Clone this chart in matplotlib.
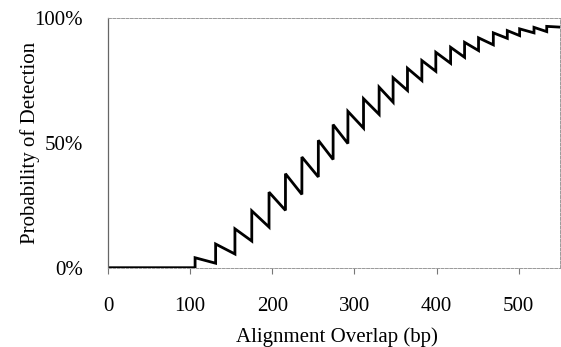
import numpy as np
import matplotlib.pyplot as plt
from matplotlib.ticker import PercentFormatter

# --- data (sawtooth detection curve) ---
jump_x = [106, 131, 154.5, 175, 196, 216, 236, 256, 274, 292, 311, 330, 347,
          364.5, 382, 399, 417, 434, 451, 469, 486, 501, 518.5, 534]
before_jump = [0, 1.8, 5.5, 10.7, 16.3, 23.0, 29.4, 36.4, 43.4, 49.8, 56.0, 61.5,
               66.4, 71.1, 75.1, 78.8, 82.0, 84.4, 87.1, 89.4, 92.0, 93.1, 94.2, 94.7]
after_jump = [4.0, 9.5, 15.6, 22.8, 30.3, 37.7, 44.4, 51.1, 57.4, 62.7, 67.8, 72.4,
              76.2, 80.0, 83.1, 86.4, 88.4, 90.4, 92.2, 94.2, 95.1, 95.8, 96.4, 96.8]
x_start, y_start = 0, 0
x_end, y_end = 550, 96.5

# build the step/saw path
xs = [x_start]
ys = [y_start]
for xj, lo, hi in zip(jump_x, before_jump, after_jump):
    xs += [xj, xj]
    ys += [lo, hi]
xs.append(x_end)
ys.append(y_end)

plt.rcParams['font.family'] = ['Liberation Serif', 'DejaVu Serif']

fig = plt.figure(figsize=(5.61, 3.47), dpi=100)
ax = fig.add_axes([0.1925, 0.2285, 0.8055, 0.7185])

ax.plot(xs, ys, color='black', linewidth=2.0, solid_joinstyle='miter')

ax.set_xlim(0, 550)
ax.set_ylim(0, 100)
ax.set_xticks([0, 100, 200, 300, 400, 500])
ax.set_yticks([0, 50, 100])
ax.yaxis.set_major_formatter(PercentFormatter(decimals=0))

ax.tick_params(axis='x', direction='out', length=4, width=0.8, color='#777777',
               labelsize=15, pad=17)
ax.tick_params(axis='y', direction='out', length=0, labelsize=15, pad=18)

ax.spines['left'].set_color('#666666')
ax.spines['left'].set_linewidth(0.9)
for side in ['top', 'right', 'bottom']:
    ax.spines[side].set_color('#999999')
    ax.spines[side].set_linewidth(0.7)
    ax.spines[side].set_linestyle((0, (3, 1.5)))

ax.set_xlabel('Alignment Overlap (bp)', fontsize=15, va='center')
ax.set_ylabel('Probability of Detection', fontsize=15, va='center')
ax.xaxis.set_label_coords(0.507, -0.28)
ax.yaxis.set_label_coords(-0.172, 0.5)

plt.savefig('out.png', dpi=100)
